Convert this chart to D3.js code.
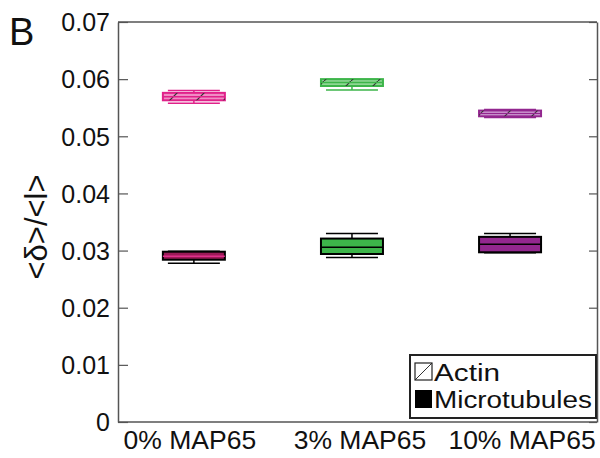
<!DOCTYPE html>
<html><head><meta charset="utf-8">
<script src="https://cdn.jsdelivr.net/npm/d3@7"></script>
<style>body{margin:0;background:#fff}svg{display:block}text{font-family:"Liberation Sans",Arial,sans-serif}</style>
</head><body><svg id="c" width="600" height="458"></svg>
<script>
const categories = ["0% MAP65", "3% MAP65", "10% MAP65"];
const yTicks = [0, 0.01, 0.02, 0.03, 0.04, 0.05, 0.06, 0.07];
// [whiskerLow, q1, median, q3, whiskerHigh]
const actinStats = [
  [0.0558, 0.0563, 0.0569, 0.0576, 0.0580],
  [0.0581, 0.0588, 0.0594, 0.0600, 0.0600],
  [0.0533, 0.0535, 0.0540, 0.0545, 0.0547]
];
const microStats = [
  [0.0278, 0.0284, 0.0290, 0.0298, 0.0299],
  [0.0288, 0.0294, 0.0306, 0.0321, 0.0330],
  [0.0296, 0.0297, 0.0311, 0.0324, 0.0330]
];
const actinStroke = ["#e0218a", "#3db54a", "#93278f"];
const actinFill = ["#f08cc4", "#8fd694", "#d7b0dc"];
const microFill = ["#9c1a58", "#3db54a", "#93278f"];
const microMedian = ["#e0308c", "#000", "#000"];

const svg = d3.select("#c");
const L = 118, R = 597, T = 22, B = 422;
const y = d3.scaleLinear().domain([0, 0.07]).range([B, T]);
const x = d3.scaleLinear().domain([0.52, 3.55]).range([L, R]);
const bw = 62;

const defs = svg.append("defs");
actinStroke.forEach((c, i) => {
  const p = defs.append("pattern").attr("id", "h" + i).attr("patternUnits", "userSpaceOnUse")
    .attr("width", 27).attr("height", 27);
  p.append("path").attr("d", "M0,27 L27,0").attr("stroke", "#333").attr("stroke-width", 1.2);
});
const lp = defs.append("pattern").attr("id", "hl").attr("patternUnits", "userSpaceOnUse")
  .attr("x", 415).attr("y", 363).attr("width", 17).attr("height", 17);
lp.append("path").attr("d", "M0,17 L17,0").attr("stroke", "#333").attr("stroke-width", 1);

// axes
const axL = svg.append("g").attr("transform", `translate(${L},0)`)
  .call(d3.axisLeft(y).tickValues(yTicks).tickFormat(d => d === 0 ? "0" : d3.format(".2f")(d)).tickSizeInner(-10).tickSizeOuter(0).tickPadding(8));
const axR = svg.append("g").attr("transform", `translate(${R},0)`)
  .call(d3.axisRight(y).tickValues(yTicks).tickFormat("").tickSizeInner(-8).tickSizeOuter(0));
[axL, axR].forEach(a => {
  a.selectAll(".domain").attr("stroke", "#555").attr("stroke-width", 1.5);
  a.selectAll(".tick line").attr("stroke", "#555").attr("stroke-width", 1.2);
});
axL.selectAll("text").attr("font-size", 25).attr("fill", "#111").attr("dy", "0.35em");
svg.append("line").attr("x1", L).attr("x2", R).attr("y1", T).attr("y2", T).attr("stroke", "#555").attr("stroke-width", 1.5);
svg.append("line").attr("x1", L).attr("x2", R).attr("y1", B).attr("y2", B).attr("stroke", "#555").attr("stroke-width", 1.5);

// x labels
svg.append("g").selectAll("text").data(categories).join("text")
  .attr("x", (d, i) => x(i + 1) + (i === 0 ? -4 : i === 1 ? 8 : 12)).attr("y", 449).attr("text-anchor", "middle")
  .attr("font-size", 26.5).attr("fill", "#111").text(d => d);

function drawBox(g, s, cx, stroke, fill, medColor, sw, hatch) {
  const capW = 26;
  g.append("line").attr("x1", cx).attr("x2", cx).attr("y1", y(s[4])).attr("y2", y(s[3])).attr("stroke", stroke).attr("stroke-width", 1.5);
  g.append("line").attr("x1", cx).attr("x2", cx).attr("y1", y(s[1])).attr("y2", y(s[0])).attr("stroke", stroke).attr("stroke-width", 1.5);
  g.append("line").attr("x1", cx - capW).attr("x2", cx + capW).attr("y1", y(s[4])).attr("y2", y(s[4])).attr("stroke", stroke).attr("stroke-width", 1.5);
  g.append("line").attr("x1", cx - capW).attr("x2", cx + capW).attr("y1", y(s[0])).attr("y2", y(s[0])).attr("stroke", stroke).attr("stroke-width", 1.5);
  g.append("rect").attr("x", cx - bw / 2).attr("y", y(s[3])).attr("width", bw).attr("height", y(s[1]) - y(s[3]))
    .attr("fill", fill).attr("stroke", stroke).attr("stroke-width", sw);
  if (hatch) g.append("rect").attr("x", cx - bw / 2).attr("y", y(s[3])).attr("width", bw).attr("height", y(s[1]) - y(s[3]))
    .attr("fill", hatch).attr("stroke", "none");
  g.append("line").attr("x1", cx - bw / 2).attr("x2", cx + bw / 2).attr("y1", y(s[2])).attr("y2", y(s[2])).attr("stroke", medColor).attr("stroke-width", 1.5);
}
const gb = svg.append("g");
actinStats.forEach((s, i) => drawBox(gb, s, x(i + 1), actinStroke[i], actinFill[i], actinStroke[i], 2, `url(#h${i})`));
microStats.forEach((s, i) => drawBox(gb, s, x(i + 1), "#000", microFill[i], microMedian[i], 2, null));

// legend
const lg = svg.append("g");
lg.append("rect").attr("x", 410).attr("y", 355).attr("width", 186).attr("height", 63).attr("fill", "#fff").attr("stroke", "#222").attr("stroke-width", 2);
lg.append("rect").attr("x", 415).attr("y", 363).attr("width", 17).attr("height", 17).attr("fill", "url(#hl)").attr("stroke", "#222").attr("stroke-width", 1.2);
lg.append("rect").attr("x", 415).attr("y", 390).attr("width", 17).attr("height", 18).attr("fill", "#000");
lg.append("text").attr("x", 434).attr("y", 381).attr("font-size", 23.5).attr("fill", "#111")
  .attr("textLength", 66).attr("lengthAdjust", "spacingAndGlyphs").text("Actin");
lg.append("text").attr("x", 434).attr("y", 408).attr("font-size", 23.5).attr("fill", "#111")
  .attr("textLength", 158).attr("lengthAdjust", "spacingAndGlyphs").text("Microtubules");

// y title
svg.append("text").attr("transform", `translate(47,227) rotate(-90)`).attr("text-anchor", "middle")
  .attr("font-size", 31).attr("fill", "#111").text("<δ>/<l>");
// panel letter
svg.append("text").attr("x", 9).attr("y", 45).attr("font-size", 38).attr("fill", "#111").text("B");
</script></body></html>
